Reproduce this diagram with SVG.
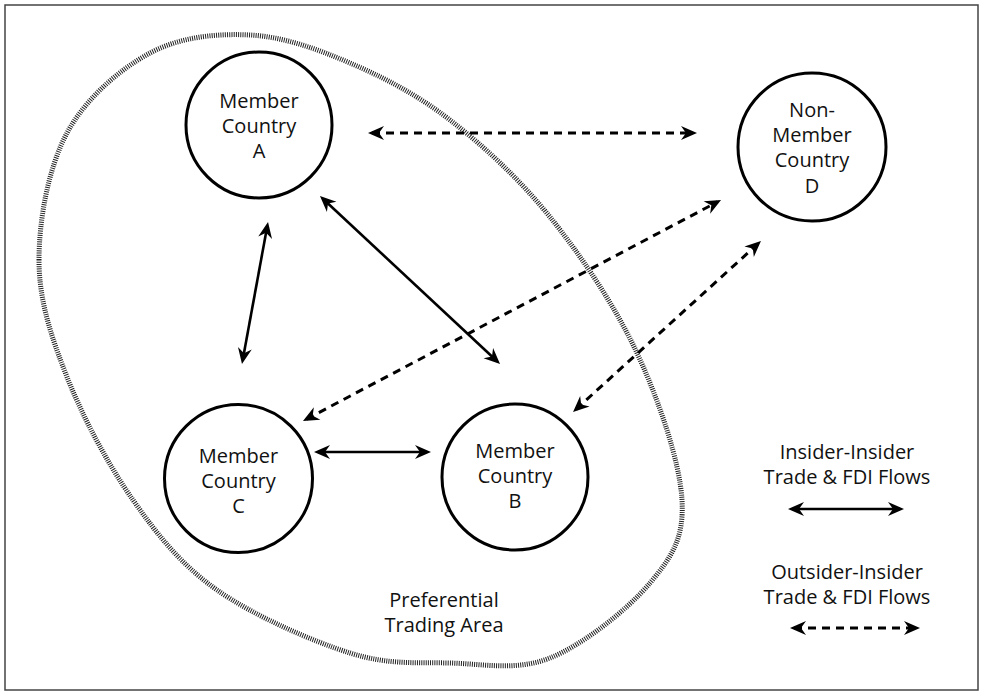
<svg xmlns="http://www.w3.org/2000/svg" width="984" height="696" viewBox="0 0 984 696">
<style>
.node circle{fill:#fff;stroke:#000;stroke-width:3}
text{font-family:"Open Sans","Noto Sans","Liberation Sans",sans-serif;font-size:20px;fill:#111;text-anchor:middle}
.conn line{stroke:#000;stroke-width:2.6;fill:none}
.conn .d{stroke-dasharray:8 6;stroke-width:3}
</style>
<defs>
<marker id="ah" viewBox="-13 -8 18 16" refX="0" refY="0" markerWidth="18" markerHeight="16" markerUnits="userSpaceOnUse" orient="auto-start-reverse">
<path d="M4,0 L-12,-7 L-7,0 L-12,7 Z" fill="#000"/>
</marker>
</defs>
<rect x="5" y="5" width="973" height="685" fill="#fff" stroke="#444" stroke-width="1.5"/>
<g id="trading-area">
<path d="M39,260 C39,219.3 48.5,167.5 67,133 C85.5,98.5 119.5,69.3 150,53 C180.5,36.7 216.7,33.3 250,35 C283.3,36.7 316.7,48.8 350,63 C383.3,77.2 416.7,94.3 450,120 C483.3,145.7 518.8,178.2 550,217 C581.2,255.8 615,305.8 637,353 C659,400.2 679.8,461.7 682,500 C684.2,538.3 672,556.7 650,583 C628,609.3 583.3,644.7 550,658 C516.7,671.3 483.3,663.8 450,663 C416.7,662.2 388.8,665.2 350,653 C311.2,640.8 253.2,615.5 217,590 C180.8,564.5 158,535.5 133,500 C108,464.5 82.7,417 67,377 C51.3,337 39,300.7 39,260 Z" fill="none" stroke="#222" stroke-width="5" stroke-dasharray="1 1.2"/>
<text x="444" y="607">Preferential</text>
<text x="444" y="632">Trading Area</text>
</g>
<g id="connectors" class="conn">
<line class="d" x1="372" y1="133" x2="693" y2="133" marker-start="url(#ah)" marker-end="url(#ah)"/>
<line x1="322.9" y1="198.7" x2="497.1" y2="361.3" marker-start="url(#ah)" marker-end="url(#ah)"/>
<line x1="267.3" y1="225.9" x2="242.7" y2="360.1" marker-start="url(#ah)" marker-end="url(#ah)"/>
<line x1="318" y1="452" x2="427" y2="452" marker-start="url(#ah)" marker-end="url(#ah)"/>
<line class="d" x1="306.5" y1="419.1" x2="717.5" y2="201.9" marker-start="url(#ah)" marker-end="url(#ah)"/>
<line class="d" x1="576" y1="409.3" x2="758" y2="243.7" marker-start="url(#ah)" marker-end="url(#ah)"/>
</g>
<g id="node-a" class="node">
<circle cx="259" cy="125" r="73"/>
<text x="259" y="108">Member</text>
<text x="259" y="133">Country</text>
<text x="259" y="158">A</text>
</g>
<g id="node-d" class="node">
<circle cx="812" cy="147" r="74"/>
<text x="812" y="117">Non-</text>
<text x="812" y="142">Member</text>
<text x="812" y="167">Country</text>
<text x="812" y="193">D</text>
</g>
<g id="node-c" class="node">
<circle cx="238.5" cy="478.5" r="74"/>
<text x="238.5" y="463">Member</text>
<text x="238.5" y="488">Country</text>
<text x="238.5" y="513">C</text>
</g>
<g id="node-b" class="node">
<circle cx="515" cy="477" r="73"/>
<text x="515" y="458">Member</text>
<text x="515" y="483">Country</text>
<text x="515" y="508">B</text>
</g>
<g id="legend">
<text x="847" y="459">Insider-Insider</text>
<text x="847" y="484">Trade &amp; FDI Flows</text>
<g class="conn"><line x1="792" y1="509" x2="900" y2="509" marker-start="url(#ah)" marker-end="url(#ah)"/></g>
<text x="847" y="579">Outsider-Insider</text>
<text x="847" y="604">Trade &amp; FDI Flows</text>
<g class="conn"><line class="d" x1="794" y1="628" x2="916" y2="628" marker-start="url(#ah)" marker-end="url(#ah)"/></g>
</g>
</svg>
